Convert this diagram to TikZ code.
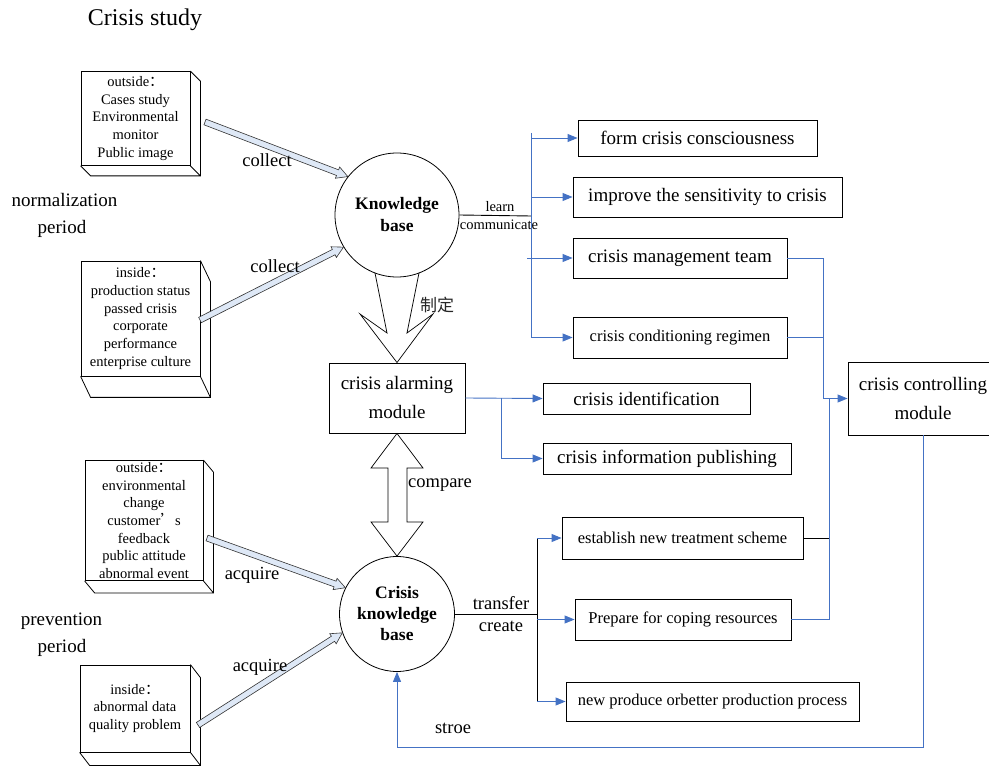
\documentclass[tikz,border=0pt]{standalone}
\usepackage{fontspec}
\setmainfont{Liberation Serif}
\newfontfamily\cjk{Noto Sans CJK SC}
\usetikzlibrary{calc,arrows.meta}
\definecolor{cblue}{RGB}{68,114,196}
\definecolor{hfill}{RGB}{222,232,246}
\newcommand{\hollowarrow}[2]{%
  \filldraw[harrow] ($(#1)!3pt!90:(#2)$) -- ($(#2)!11pt!(#1)!3pt!-90:(#1)$) -- ($(#2)!11pt!(#1)!6pt!-90:(#1)$) -- (#2) -- ($(#2)!11pt!(#1)!6pt!90:(#1)$) -- ($(#2)!11pt!(#1)!3pt!90:(#1)$) -- ($(#1)!3pt!-90:(#2)$) -- cycle;}
\newcommand{\cubeside}[3]{%
  \draw[cubeline] (#1.north east) -- ++(#2,#3) |- ($(#1.south west)+(#2,#3)$) -- (#1.south west) (#1.south east) -- ++(#2,#3);}
\begin{document}
\begin{tikzpicture}[x=1pt,y=-1pt,
  lbl/.style={font=\fontsize{18.5}{22}\selectfont},
  bigtxt/.style={font=\fontsize{19}{23}\selectfont},
  midtxt/.style={font=\fontsize{16.5}{20}\selectfont},
  rbox/.style={draw, line width=0.9pt, inner sep=0pt, align=center},
  twoline/.style={font=\fontsize{19}{29}\selectfont},
  cube/.style={draw, line width=0.8pt, inner sep=0pt, align=center, font=\fontsize{14.5}{17.7}\selectfont},
  cubeline/.style={line width=0.8pt},
  kcirc/.style={draw, circle, line width=0.8pt, inner sep=0pt, align=center},
  bl/.style={draw=cblue, line width=0.9pt},
  blarr/.style={bl, -{Triangle[length=10pt,width=8pt]}},
  blk/.style={draw=black, line width=0.9pt},
  harrow/.style={draw=black!80, line width=0.6pt, fill=hfill},
  bigarrow/.style={draw=black, line width=0.7pt}
]
\useasboundingbox (0,0) rectangle (989,767);

% titles and period labels
\node[font=\fontsize{24}{28}\selectfont] (title) at (145,19.5) {Crisis study};
\node[bigtxt] (np1) at (64.5,200) {normalization};
\node[bigtxt] (np2) at (62,229) {period};
\node[bigtxt] (pp1) at (61.5,621) {prevention};
\node[bigtxt] (pp2) at (62,648) {period};

% 3D boxes
\node[cube, minimum width=109pt, minimum height=94pt] (b1) at (135.5,118.5) {outside{\cjk ：}\\Cases study\\Environmental\\monitor\\Public image};
\cubeside{b1}{10}{10}
\node[cube, minimum width=119pt, minimum height=115pt] (b2) at (140.5,318.5) {inside{\cjk ：}\\production status\\passed crisis\\corporate\\performance\\enterprise culture};
\cubeside{b2}{10}{21}
\node[cube, minimum width=118pt, minimum height=120pt] (b3) at (144,520.5) {outside{\cjk ：}\\environmental\\change\\customer{\cjk ’}s\\feedback\\public attitude\\abnormal event};
\cubeside{b3}{10}{12}
\node[cube, minimum width=110pt, minimum height=87pt] (b4) at (135,708.5) {inside{\cjk ：}\\abnormal data\\quality problem};
\cubeside{b4}{10}{13}

% knowledge bases
\node[kcirc, minimum size=124pt, font=\bfseries\fontsize{17.5}{22}\selectfont] (kb) at (397,215) {Knowledge\\base};
\node[kcirc, minimum size=115pt, font=\bfseries\fontsize{17.5}{21}\selectfont] (ckb) at (397,614) {Crisis\\knowledge\\base};

% modules
\node[rbox, twoline, minimum width=136pt, minimum height=70pt] (alarm) at (397,398) {crisis alarming\\module};
\node[rbox, twoline, minimum width=150pt, minimum height=73pt] (ctrl) at (923,398.5) {crisis controlling\\module};

% right boxes (top)
\node[rbox, bigtxt, minimum width=239pt, minimum height=36pt] (form) at (697.5,138) {form crisis consciousness};
\node[rbox, bigtxt, minimum width=269pt, minimum height=40pt] (impr) at (707.5,197) {improve the sensitivity to crisis};
\node[rbox, bigtxt, minimum width=214pt, minimum height=40pt] (mgmt) at (680,258) {crisis management team};
\node[rbox, midtxt, minimum width=214pt, minimum height=41pt] (cond) at (680,337.5) {crisis conditioning regimen};
\node[rbox, bigtxt, minimum width=207pt, minimum height=31pt] (ident) at (646.5,398.5) {crisis identification};
\node[rbox, bigtxt, minimum width=248pt, minimum height=31pt] (publ) at (667,458.5) {crisis information publishing};
\node[rbox, midtxt, minimum width=241pt, minimum height=42pt] (estab) at (682.5,538) {establish new treatment scheme};
\node[rbox, midtxt, minimum width=216pt, minimum height=41pt] (prep) at (683,619.5) {Prepare for coping resources};
\node[rbox, midtxt, minimum width=293pt, minimum height=39pt] (newp) at (712.5,701.5) {new produce orbetter production process};

% hollow collect / acquire arrows
\coordinate (a1s) at (205,122);
\coordinate (a2s) at (200,320);
\coordinate (a3s) at (207,538);
\coordinate (a4s) at (198,725);
\hollowarrow{a1s}{kb.142}
\hollowarrow{a2s}{kb.211}
\hollowarrow{a3s}{ckb.153}
\hollowarrow{a4s}{ckb.199}
\node[lbl] (c1) at (267,160) {collect};
\node[lbl] (c2) at (275,266) {collect};
\node[lbl] (q1) at (252,575) {acquire};
\node[lbl] (q2) at (260,667) {acquire};

% big arrow knowledge base -> alarming module
\draw[bigarrow] (375,273) -- (387,333) -- (360,314) -- (alarm.north) -- (433,314) -- (407,333) -- (419,273);
\node[font=\cjk\fontsize{17}{20}\selectfont, text=black!85] (zd) at (437,305) {制定};

% double arrow compare
\draw[bigarrow] (alarm.south) -- (371,468) -- (388,468) -- (388,522) -- (371,522) -- (ckb.north) -- (423,522) -- (407,522) -- (407,468) -- (423,468) -- cycle;
\node[lbl] (cmp) at (440,485) {compare};

% learn / communicate
\coordinate (kbj) at (531,216);
\coordinate (tt) at (531,133);
\draw[blk] (kb.east) -- (kbj);
\node[font=\fontsize{14.5}{17}\selectfont] (ln) at (500,207) {learn};
\node[font=\fontsize{14.5}{17}\selectfont] (cm) at (499,225) {communicate};
\draw[bl] (tt) -- (cond.west -| tt);
\draw[blarr] (form.west -| tt) -- (form.west);
\draw[blarr] (impr.west -| tt) -- (impr.west);
\draw[blarr] ($(mgmt.west -| tt)+(-4,0)$) -- (mgmt.west);
\draw[blarr] (cond.west -| tt) -- (cond.west);

% to crisis controlling module
\coordinate (rj1) at (823,398.5);
\coordinate (rj2) at (829,398.5);
\draw[bl] (mgmt.east) -| (rj1);
\draw[bl] (cond.east) -- (cond.east -| rj1);
\draw[blarr] (rj1) -- (ctrl.west);
\draw[bl] (rj2) |- (prep.east);
\draw[blk] (estab.east) -- (estab.east -| rj2);

% alarming module outputs
\coordinate (aj) at (501,398);
\draw[blarr] (alarm.east) -- (ident.west);
\draw[blarr] (aj) |- (publ.west);

% crisis knowledge base outputs
\coordinate (cj) at (537,614);
\draw[blk] (ckb.east) -- (cj);
\draw[blk] (estab.west -| cj) -- (newp.west -| cj);
\node[lbl] (tr) at (501,603) {transfer};
\node[lbl] (cr) at (501,626) {create};
\draw[blarr] (estab.west -| cj) -- (estab.west);
\draw[blarr] (prep.west -| cj) -- (prep.west);
\draw[blarr] (newp.west -| cj) -- (newp.west);

% store loop
\coordinate (sb) at (923,747);
\draw[blarr] (ctrl.south) -- (sb) -- (ckb.south |- sb) -- (ckb.south);
\node[lbl] (st) at (453,728) {stroe};
\end{tikzpicture}
\end{document}
